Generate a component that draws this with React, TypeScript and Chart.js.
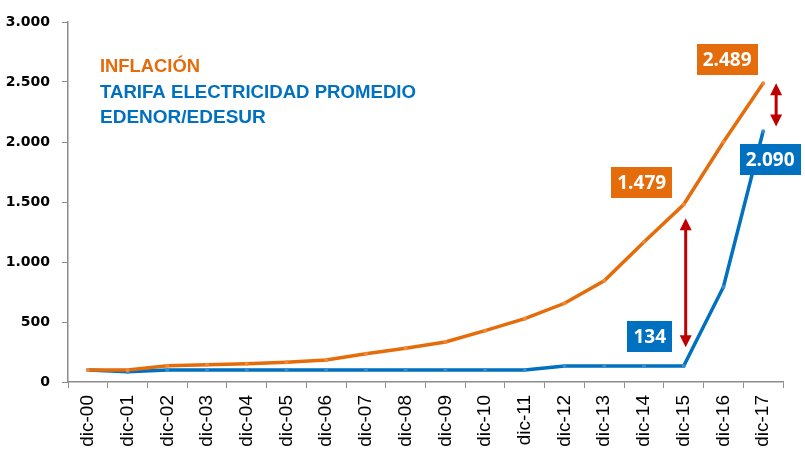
import React, { useEffect, useRef } from "react";
import { Chart, registerables } from "chart.js";

Chart.register(...registerables);

const categories = [
  "dic-00", "dic-01", "dic-02", "dic-03", "dic-04", "dic-05", "dic-06", "dic-07", "dic-08",
  "dic-09", "dic-10", "dic-11", "dic-12", "dic-13", "dic-14", "dic-15", "dic-16", "dic-17",
];

const inflacion = [100, 101, 135, 144, 153, 165, 183, 236, 281, 333, 428, 528, 656, 844, 1167, 1479, 2000, 2489];
const tarifa = [100, 85, 100, 100, 100, 100, 100, 100, 100, 100, 100, 100, 134, 134, 134, 134, 792, 2090];

const yTicks = [0, 500, 1000, 1500, 2000, 2500, 3000];

// value callouts: category index, series, value shown, offset of box centre from the point
const callouts = [
  { idx: 17, series: "inf", value: 2489, dx: -36, dy: -24 },
  { idx: 15, series: "inf", value: 1479, dx: -42, dy: -22 },
  { idx: 17, series: "tar", value: 2090, dx: 7, dy: 28 },
  { idx: 15, series: "tar", value: 134, dx: -34, dy: -29 },
];

// gap arrows between the two series: category index, from value, to value, dx
const gapArrows = [
  { idx: 15, from: 1365, to: 290, dx: 2 },
  { idx: 17, from: 2489, to: 2130, dx: 13 },
];

const legendLines = [
  { text: "INFLACIÓN", color: "#E46C0A", width: 100 },
  { text: "TARIFA ELECTRICIDAD PROMEDIO", color: "#0070C0", width: 316 },
  { text: "EDENOR/EDESUR", color: "#0070C0", width: 170 },
];

const ORANGE = "#E46C0A";
const BLUE = "#0070C0";
const RED = "#C00000";

const fmt = (v: number) => v.toString().replace(/\B(?=(\d{3})+(?!\d))/g, ".");

const overlay = {
  id: "overlay",
  afterDatasetsDraw(chart: any) {
    const { ctx, scales } = chart;
    const xs = scales.x;
    const ys = scales.y;
    ctx.save();

    // legend text block
    ctx.textBaseline = "alphabetic";
    ctx.textAlign = "left";
    ctx.font = "bold 19px 'Liberation Sans', Arial, sans-serif";
    legendLines.forEach((l, i) => {
      ctx.fillStyle = l.color;
      ctx.fillText(l.text, 100, 72 + i * 25.5, l.width);
    });

    // arrows
    ctx.fillStyle = RED;
    ctx.strokeStyle = RED;
    gapArrows.forEach((a) => {
      const x = xs.getPixelForValue(a.idx) + a.dx;
      const y1 = ys.getPixelForValue(a.from);
      const y2 = ys.getPixelForValue(a.to);
      const head = 12;
      const hw = 6;
      ctx.lineWidth = 3;
      ctx.beginPath();
      ctx.moveTo(x, y1 + head - 1);
      ctx.lineTo(x, y2 - head + 1);
      ctx.stroke();
      ctx.beginPath();
      ctx.moveTo(x, y1);
      ctx.lineTo(x - hw, y1 + head);
      ctx.lineTo(x + hw, y1 + head);
      ctx.closePath();
      ctx.fill();
      ctx.beginPath();
      ctx.moveTo(x, y2);
      ctx.lineTo(x - hw, y2 - head);
      ctx.lineTo(x + hw, y2 - head);
      ctx.closePath();
      ctx.fill();
    });

    // value boxes
    ctx.font = "bold 19px 'Open Sans', sans-serif";
    ctx.textAlign = "center";
    ctx.textBaseline = "middle";
    callouts.forEach((c) => {
      const px = xs.getPixelForValue(c.idx);
      const py = ys.getPixelForValue(c.value);
      const cx = px + c.dx;
      const cy = py + c.dy;
      const label = fmt(c.value);
      const w = ctx.measureText(label).width + 12;
      const h = 31;
      ctx.fillStyle = c.series === "inf" ? ORANGE : BLUE;
      ctx.fillRect(Math.round(cx - w / 2), Math.round(cy - h / 2), Math.round(w), h);
      ctx.fillStyle = "#FFFFFF";
      ctx.fillText(label, cx, cy + 1);
    });

    ctx.restore();
  },
};

export default function App() {
  const ref = useRef<HTMLCanvasElement | null>(null);

  useEffect(() => {
    if (!ref.current) return;
    const chart = new Chart(ref.current, {
      type: "line",
      data: {
        labels: categories,
        datasets: [
          {
            label: "INFLACIÓN",
            data: inflacion,
            borderColor: ORANGE,
            backgroundColor: ORANGE,
            borderWidth: 3.5,
            pointRadius: 2,
            pointBackgroundColor: "#F08A3A",
            pointBorderWidth: 0,
            tension: 0,
          },
          {
            label: "TARIFA ELECTRICIDAD PROMEDIO EDENOR/EDESUR",
            data: tarifa,
            borderColor: BLUE,
            backgroundColor: BLUE,
            borderWidth: 3.5,
            pointRadius: 2,
            pointBackgroundColor: "#3A8FD0",
            pointBorderWidth: 0,
            tension: 0,
          },
        ],
      },
      options: {
        responsive: false,
        animation: false,
        devicePixelRatio: 1,
        layout: { padding: { top: 22, right: 22, left: 0, bottom: 0 } },
        plugins: {
          legend: { display: false },
          tooltip: { enabled: false },
        },
        scales: {
          x: {
            type: "category",
            offset: true,
            grid: {
              offset: true,
              drawOnChartArea: false,
              drawTicks: true,
              tickLength: 6,
              color: "#8C8C8C",
            },
            border: { display: true, color: "#8C8C8C", width: 1.5 },
            ticks: {
              minRotation: 90,
              maxRotation: 90,
              autoSkip: false,
              padding: 7,
              color: "#000000",
              font: { family: "'Liberation Sans', Arial, sans-serif", size: 19 },
            },
            afterFit: (s: any) => {
              s.height = 80;
            },
          },
          y: {
            min: 0,
            max: 3000,
            afterBuildTicks: (s: any) => {
              s.ticks = yTicks.map((v) => ({ value: v }));
            },
            grid: {
              drawOnChartArea: false,
              drawTicks: true,
              tickLength: 6,
              color: "#8C8C8C",
            },
            border: { display: true, color: "#8C8C8C", width: 1.5 },
            ticks: {
              padding: 12,
              color: "#000000",
              font: { family: "'DejaVu Sans', sans-serif", size: 14, weight: "bold" },
              callback: (v: any) => fmt(Number(v)),
            },
            afterFit: (s: any) => {
              s.width = 68;
            },
          },
        },
      },
      plugins: [overlay],
    });
    return () => chart.destroy();
  }, []);

  return (
    <div style={{ position: "fixed", left: 0, top: 0, width: 805, height: 462, background: "#FFFFFF" }}>
      <canvas ref={ref} width={805} height={462} />
    </div>
  );
}
